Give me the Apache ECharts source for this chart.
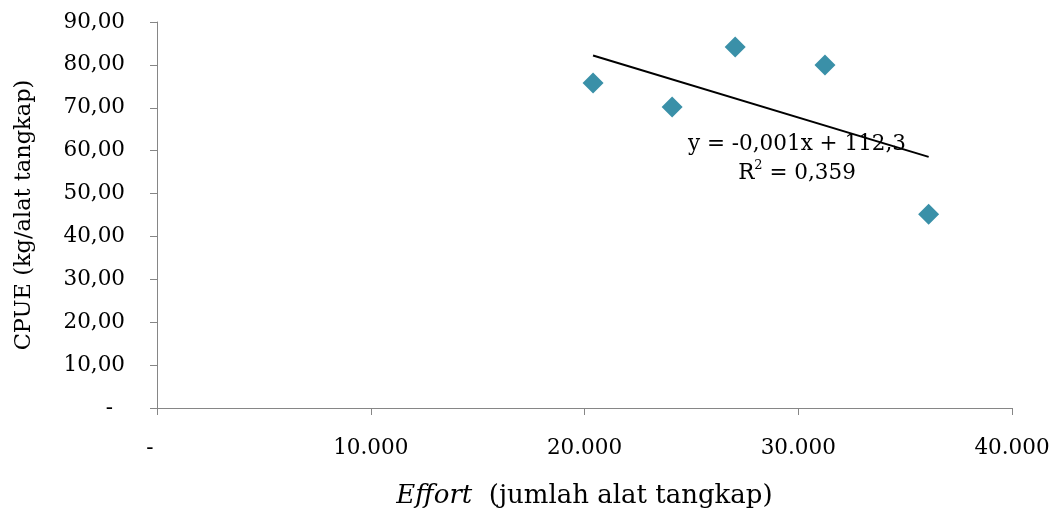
<!DOCTYPE html>
<html>
<head>
<meta charset="utf-8">
<script src="https://cdn.jsdelivr.net/npm/echarts@6/dist/echarts.min.js"></script>
<style>
html,body{margin:0;padding:0;background:#fff;}
#c{width:1054px;height:521px;}
</style>
</head>
<body>
<div id="c"></div>
<script>
// Data
const effort = [20400, 24100, 27050, 31250, 36100];
const cpue = [75.8, 70.2, 84.2, 80.0, 45.2];
const xTicks = [0, 10000, 20000, 30000, 40000];
const yTicks = [0, 10, 20, 30, 40, 50, 60, 70, 80, 90];
const equationLines = ['y = -0,001x + 112,3', 'R{sup|2} = 0,359'];

// least-squares trend line computed from the data
const n = effort.length;
const mx = effort.reduce((a, b) => a + b, 0) / n;
const my = cpue.reduce((a, b) => a + b, 0) / n;
let sxy = 0, sxx = 0;
for (let i = 0; i < n; i++) { sxy += (effort[i] - mx) * (cpue[i] - my); sxx += (effort[i] - mx) ** 2; }
const slope = sxy / sxx, intercept = my - slope * mx;
const xMin = Math.min(...effort), xMax = Math.max(...effort);
const trend = [[xMin, intercept + slope * xMin], [xMax, intercept + slope * xMax]];

const FONT = 'DejaVu Serif';
const chart = echarts.init(document.getElementById('c'), null, {renderer: 'canvas'});
chart.setOption({
  animation: false,
  backgroundColor: '#ffffff',
  grid: {left: 157, right: 42, top: 22, bottom: 113, containLabel: false},
  xAxis: {
    type: 'value', min: xTicks[0], max: xTicks[xTicks.length - 1], interval: xTicks[1] - xTicks[0],
    axisLine: {show: true, lineStyle: {color: '#868686', width: 1}},
    axisTick: {show: true, length: 7, lineStyle: {color: '#868686'}},
    splitLine: {show: false},
    axisLabel: {
      margin: 29, color: '#000', fontFamily: FONT, fontSize: 21.5,
      formatter: v => v === 0 ? '{d|-}' : (v / 1000).toFixed(3),
      rich: {d: {fontFamily: FONT, fontSize: 21.5, color: '#000', padding: [0, 14, 0, 0]}}
    },
    name: '{i|Effort}  (jumlah alat tangkap)', nameLocation: 'middle', nameGap: 75,
    nameTextStyle: {
      color: '#000', fontFamily: FONT, fontSize: 26,
      rich: {i: {fontFamily: FONT, fontSize: 26, fontStyle: 'italic', color: '#000'}}
    }
  },
  yAxis: {
    type: 'value', min: yTicks[0], max: yTicks[yTicks.length - 1], interval: yTicks[1] - yTicks[0],
    axisLine: {show: true, lineStyle: {color: '#868686', width: 1}},
    axisTick: {show: true, length: 7, lineStyle: {color: '#868686'}},
    splitLine: {show: false},
    axisLabel: {
      margin: 32, color: '#000', fontFamily: FONT, fontSize: 21.5,
      formatter: v => v === 0 ? '{d|-}' : v.toFixed(2).replace('.', ','),
      rich: {d: {fontFamily: FONT, fontSize: 21.5, color: '#000', padding: [0, 12, 0, 0]}}
    },
    name: 'CPUE (kg/alat tangkap)', nameLocation: 'middle', nameGap: 121, nameRotate: 90,
    nameTextStyle: {color: '#000', fontFamily: FONT, fontSize: 22.5}
  },
  series: [
    {
      type: 'line', data: trend, symbol: 'none', silent: true,
      lineStyle: {color: '#000', width: 2}, z: 2
    },
    {
      type: 'scatter', data: effort.map((x, i) => [x, cpue[i]]),
      symbol: 'diamond', symbolSize: 21,
      itemStyle: {color: '#3a90a8', opacity: 1}, z: 3
    }
  ],
  graphic: [
    {
      type: 'text', left: 688, top: 130, z: 10,
      style: {
        text: equationLines.join('\n'), font: '21.5px "' + FONT + '"', fill: '#000',
        textAlign: 'center', lineHeight: 29,
        rich: {sup: {fontSize: 13, verticalAlign: 'top', padding: [0, 0, 10, 0], fill: '#000', fontFamily: FONT}}
      }
    }
  ]
});
</script>
</body>
</html>
